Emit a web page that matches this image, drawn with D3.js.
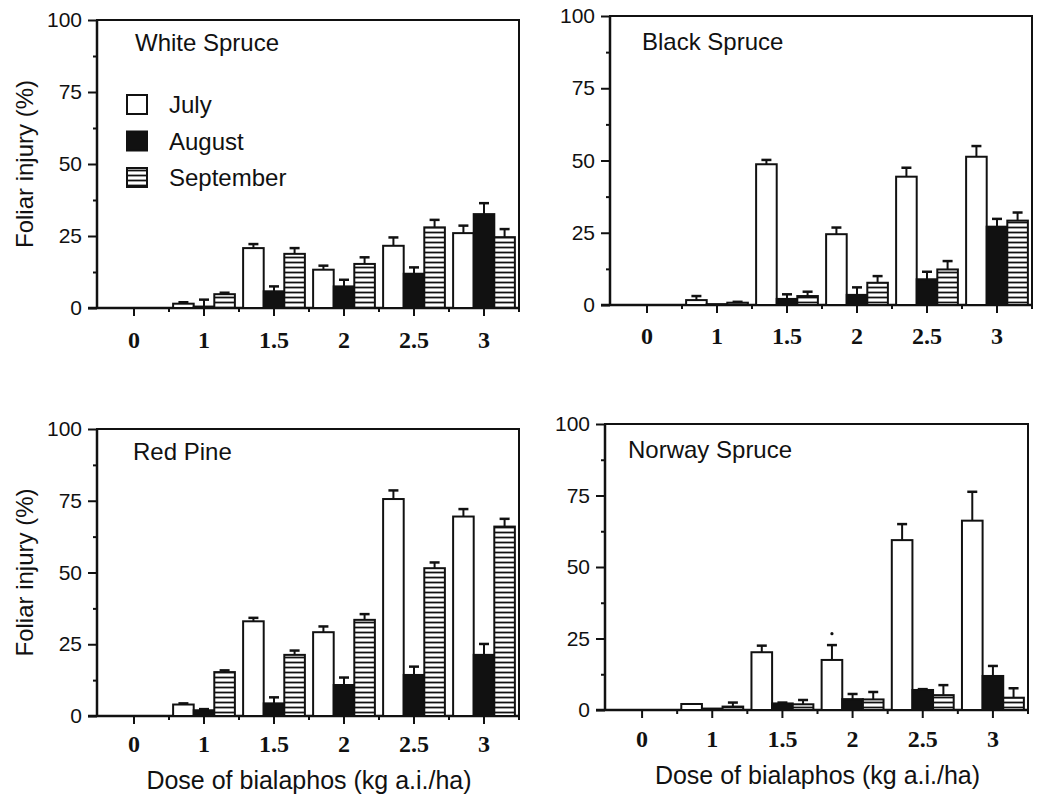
<!DOCTYPE html>
<html>
<head>
<meta charset="utf-8">
<script src="https://cdn.jsdelivr.net/npm/d3@7/dist/d3.min.js"></script>
<style>
  body { margin: 0; background: #fff; }
  text { fill: #111; }
</style>
</head>
<body>
<svg id="chart" width="1039" height="795"></svg>
<script>
// Data
const DOSES = ["0", "1", "1.5", "2", "2.5", "3"];
const MONTHS = ["July", "August", "September"];
const Y_TICKS = [0, 25, 50, 75, 100];
const Y_MINOR = [12.5, 37.5, 62.5, 87.5];

// White Spruce
const WS_JULY = [0, 1.5, 20.8, 13.3, 21.6, 26.0];
const WS_JULY_SE = [0, 0.5, 1.4, 1.4, 2.9, 2.6];
const WS_AUG = [0, 0.5, 5.8, 7.5, 11.9, 32.6];
const WS_AUG_SE = [0, 2.4, 1.7, 2.3, 2.2, 3.8];
const WS_SEP = [0, 4.8, 18.8, 15.3, 28.0, 24.6];
const WS_SEP_SE = [0, 0.5, 2.0, 2.3, 2.6, 2.8];

// Black Spruce
const BS_JULY = [0, 1.7, 48.7, 24.5, 44.4, 51.3];
const BS_JULY_SE = [0, 1.4, 1.5, 2.3, 3.1, 3.7];
const BS_AUG = [0, 0.3, 2.1, 3.5, 8.9, 27.1];
const BS_AUG_SE = [0, 0, 1.6, 2.6, 2.6, 2.7];
const BS_SEP = [0, 0.8, 3.1, 7.7, 12.3, 29.2];
const BS_SEP_SE = [0, 0.3, 1.5, 2.3, 2.9, 2.8];

// Red Pine
const RP_JULY = [0, 4.0, 33.0, 29.2, 75.6, 69.5];
const RP_JULY_SE = [0, 0.4, 1.2, 2.0, 3.0, 2.6];
const RP_AUG = [0, 2.0, 4.4, 10.8, 14.3, 21.3];
const RP_AUG_SE = [0, 0.4, 2.1, 2.6, 2.9, 3.8];
const RP_SEP = [0, 15.3, 21.3, 33.5, 51.5, 66.0];
const RP_SEP_SE = [0, 0.6, 1.5, 2.0, 2.0, 2.7];

// Norway Spruce
const NS_JULY = [0, 2.1, 20.2, 17.5, 59.4, 66.2];
const NS_JULY_SE = [0, 0, 2.3, 5.2, 5.6, 10.1];
const NS_AUG = [0, 0.5, 2.3, 3.8, 7.0, 11.9];
const NS_AUG_SE = [0, 0, 0.3, 1.8, 0.3, 3.5];
const NS_SEP = [0, 1.2, 2.0, 3.7, 5.2, 4.3];
const NS_SEP_SE = [0, 1.4, 1.5, 2.6, 3.5, 3.3];

// Panel layout
const PANELS = [
  { title: "White Spruce", left: 97, right: 519, top: 20, bottom: 308, titleDx: 38, titleDy: 31,
    series: [[WS_JULY, WS_JULY_SE], [WS_AUG, WS_AUG_SE], [WS_SEP, WS_SEP_SE]],
    yTitle: true, xTitle: false, legend: true, labelPad: 15 },
  { title: "Black Spruce", left: 610, right: 1032, top: 16, bottom: 305, titleDx: 32, titleDy: 34,
    series: [[BS_JULY, BS_JULY_SE], [BS_AUG, BS_AUG_SE], [BS_SEP, BS_SEP_SE]],
    yTitle: false, xTitle: false, legend: false, labelPad: 14 },
  { title: "Red Pine", left: 97, right: 519, top: 429, bottom: 716, titleDx: 36, titleDy: 31,
    series: [[RP_JULY, RP_JULY_SE], [RP_AUG, RP_AUG_SE], [RP_SEP, RP_SEP_SE]],
    yTitle: true, xTitle: true, legend: false, labelPad: 11, xTitleY: 789 },
  { title: "Norway Spruce", left: 605, right: 1028, top: 424, bottom: 710, titleDx: 23, titleDy: 34,
    series: [[NS_JULY, NS_JULY_SE], [NS_AUG, NS_AUG_SE], [NS_SEP, NS_SEP_SE]],
    yTitle: false, xTitle: true, legend: false, labelPad: 12, xTitleY: 784,
    marks: [{ dose: "2", month: 0, above: 4 }] }
];

const SANS = "'Liberation Sans', Arial, Helvetica, sans-serif";
const SERIF = "'Liberation Serif', 'Times New Roman', serif";

const svg = d3.select("#chart");

// Horizontal stripe pattern for September
const defs = svg.append("defs");
const stripes = defs.append("pattern")
  .attr("id", "stripes")
  .attr("patternUnits", "userSpaceOnUse")
  .attr("width", 8)
  .attr("height", 5);
stripes.append("rect").attr("width", 8).attr("height", 5).attr("fill", "#fff");
stripes.append("line")
  .attr("x1", 0).attr("x2", 8)
  .attr("y1", 2.5).attr("y2", 2.5)
  .attr("stroke", "#111").attr("stroke-width", 1.8);

const FILLS = ["#fff", "#111", "url(#stripes)"];

PANELS.forEach(drawPanel);

function drawPanel(p) {
  const g = svg.append("g");

  const x = d3.scaleBand()
    .domain(DOSES)
    .range([p.left + 2, p.right]);

  const inner = d3.scaleBand()
    .domain(d3.range(MONTHS.length))
    .range([0, x.bandwidth()])
    .paddingOuter(0.2)
    .paddingInner(0);

  const y = d3.scaleLinear()
    .domain([0, 100])
    .range([p.bottom, p.top]);

  // Frame
  g.append("rect")
    .attr("x", p.left).attr("y", p.top)
    .attr("width", p.right - p.left).attr("height", p.bottom - p.top)
    .attr("fill", "none").attr("stroke", "#111").attr("stroke-width", 2);

  // Y axis: major and minor ticks
  const yAxis = g.append("g")
    .attr("transform", `translate(${p.left},0)`)
    .call(d3.axisLeft(y).tickValues(Y_TICKS).tickSize(9).tickPadding(6));
  yAxis.select(".domain").remove();
  yAxis.selectAll("line").attr("stroke", "#111").attr("stroke-width", 2);
  yAxis.selectAll("text")
    .attr("font-family", SANS).attr("font-size", 21).attr("fill", "#111");

  const yMinor = g.append("g")
    .attr("transform", `translate(${p.left},0)`)
    .call(d3.axisLeft(y).tickValues(Y_MINOR).tickSize(4).tickFormat(""));
  yMinor.select(".domain").remove();
  yMinor.selectAll("line").attr("stroke", "#111").attr("stroke-width", 2);

  // X axis: major ticks at dose centres, minor at band edges
  const xAxis = g.append("g")
    .attr("transform", `translate(0,${p.bottom})`)
    .call(d3.axisBottom(x).tickSize(8).tickPadding(p.labelPad));
  xAxis.select(".domain").remove();
  xAxis.selectAll("line").attr("stroke", "#111").attr("stroke-width", 2);
  xAxis.selectAll("text")
    .attr("font-family", SERIF).attr("font-weight", "bold")
    .attr("font-size", 24).attr("fill", "#111");

  g.append("g").selectAll("line")
    .data(DOSES.slice(1).concat(["end"]))
    .join("line")
    .attr("x1", d => d === "end" ? x.range()[1] : x(d))
    .attr("x2", d => d === "end" ? x.range()[1] : x(d))
    .attr("y1", p.bottom).attr("y2", p.bottom + 4)
    .attr("stroke", "#111").attr("stroke-width", 2);

  // Heavier axis lines
  g.append("line")
    .attr("x1", p.left - 9).attr("x2", p.right)
    .attr("y1", y(0)).attr("y2", y(0))
    .attr("stroke", "#111").attr("stroke-width", 2.5);
  g.append("line")
    .attr("x1", p.left).attr("x2", p.left)
    .attr("y1", p.top).attr("y2", p.bottom)
    .attr("stroke", "#111").attr("stroke-width", 2.5);

  // Bars
  const bars = [];
  p.series.forEach(([vals, errs], mi) => {
    DOSES.forEach((dose, di) => {
      bars.push({ dose, mi, v: vals[di], e: errs[di] });
    });
  });

  const cx = d => x(d.dose) + inner(d.mi) + inner.bandwidth() / 2;

  g.append("g").selectAll("rect")
    .data(bars.filter(d => d.v > 0))
    .join("rect")
    .attr("x", d => x(d.dose) + inner(d.mi))
    .attr("y", d => y(d.v))
    .attr("width", inner.bandwidth())
    .attr("height", d => y(0) - y(d.v))
    .attr("fill", d => FILLS[d.mi])
    .attr("stroke", "#111")
    .attr("stroke-width", 2);

  // Error bars (upper half only)
  const eb = g.append("g").selectAll("g")
    .data(bars.filter(d => d.e > 0))
    .join("g");
  eb.append("line")
    .attr("x1", cx).attr("x2", cx)
    .attr("y1", d => y(d.v)).attr("y2", d => y(d.v + d.e))
    .attr("stroke", "#111").attr("stroke-width", 2);
  eb.append("line")
    .attr("x1", d => cx(d) - 5).attr("x2", d => cx(d) + 5)
    .attr("y1", d => y(d.v + d.e)).attr("y2", d => y(d.v + d.e))
    .attr("stroke", "#111").attr("stroke-width", 2.5);

  // Small marker dots
  (p.marks || []).forEach(m => {
    const di = DOSES.indexOf(m.dose);
    const [vals, errs] = p.series[m.month];
    g.append("circle")
      .attr("cx", x(m.dose) + inner(m.month) + inner.bandwidth() / 2)
      .attr("cy", y(vals[di] + errs[di] + m.above))
      .attr("r", 1.6).attr("fill", "#111");
  });

  // Panel title
  g.append("text")
    .attr("x", p.left + p.titleDx).attr("y", p.top + p.titleDy)
    .attr("font-family", SANS).attr("font-size", 24)
    .text(p.title);

  if (p.yTitle) {
    g.append("text")
      .attr("transform", `translate(33,${(p.top + p.bottom) / 2}) rotate(-90)`)
      .attr("text-anchor", "middle")
      .attr("font-family", SANS).attr("font-size", 24)
      .text("Foliar injury (%)");
  }

  if (p.xTitle) {
    g.append("text")
      .attr("x", (p.left + p.right) / 2 + 1).attr("y", p.xTitleY)
      .attr("text-anchor", "middle")
      .attr("font-family", SANS).attr("font-size", 25)
      .text("Dose of bialaphos (kg a.i./ha)");
  }

  if (p.legend) {
    const lg = g.append("g")
      .attr("transform", `translate(${p.left + 30},${p.top + 75})`);
    const rows = lg.selectAll("g")
      .data(MONTHS)
      .join("g")
      .attr("transform", (d, i) => `translate(0,${i * 36.5})`);
    rows.append("rect")
      .attr("width", 20).attr("height", 19)
      .attr("fill", (d, i) => FILLS[i])
      .attr("stroke", "#111").attr("stroke-width", 2);
    rows.append("text")
      .attr("x", 42).attr("y", 18)
      .attr("font-family", SANS).attr("font-size", 24)
      .text(d => d);
  }
}
</script>
</body>
</html>
